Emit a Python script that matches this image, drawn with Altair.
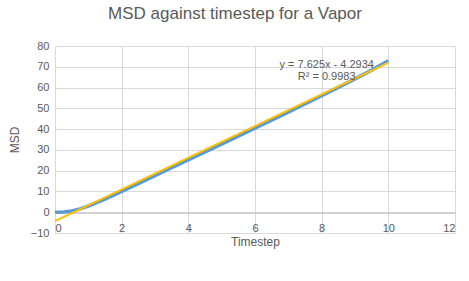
import altair as alt
import pandas as pd

# Data
timestep = [0, 0.25, 0.5, 0.75, 1.0, 1.25, 1.5, 1.75, 2.0, 2.5, 3.0, 3.5, 4.0, 4.5, 5.0,
            5.5, 6.0, 6.5, 7.0, 7.5, 8.0, 8.5, 9.0, 9.5, 10.0]
msd = [0.0, 0.1, 0.6, 1.6, 3.0, 4.6, 6.3, 8.1, 10.0, 13.8, 17.6, 21.4, 25.2, 29.0, 32.8,
       36.6, 40.4, 44.3, 48.2, 52.1, 56.1, 60.1, 64.2, 68.4, 72.9]

slope = 7.625
intercept = -4.2934
trend_x = [0, 10]
trend_y = [slope * x + intercept for x in trend_x]

eq_labels = ["y = 7.625x - 4.2934", "R² = 0.9983"]
eq_x = [8.15, 8.15]
eq_y = [71.0, 65.2]

x_ticks = [0, 2, 4, 6, 8, 10, 12]
y_ticks = [-10, 0, 10, 20, 30, 40, 50, 60, 70, 80]

df = pd.DataFrame({"t": timestep, "msd": msd})
tdf = pd.DataFrame({"t": trend_x, "msd": trend_y})
edf = pd.DataFrame({"t": eq_x, "msd": eq_y, "label": eq_labels})

FONT = "Liberation Sans"
GRAY = "#595959"

xscale = alt.Scale(domain=[0, 12], nice=False)
yscale = alt.Scale(domain=[-10, 80], nice=False)

H = 187

xaxis = alt.Axis(title="Timestep", values=x_ticks,
                 grid=True, gridColor="#D9D9D9", domainColor="#BFBFBF",
                 ticks=False, labelPadding=10, offset=-(H * 10 / 90) + 0.5,
                 labelFont=FONT, labelFontSize=11, labelColor=GRAY,
                 titleFont=FONT, titleFontSize=12, titleColor=GRAY,
                 titleFontWeight="normal", titlePadding=3,
                 labelOverlap=False)
yaxis = alt.Axis(title="MSD", values=y_ticks,
                 grid=True, gridColor="#D9D9D9", domain=False,
                 ticks=False, labelPadding=6, titlePadding=9,
                 labelFont=FONT, labelFontSize=11, labelColor=GRAY,
                 titleFont=FONT, titleFontSize=12, titleColor=GRAY,
                 titleFontWeight="normal", labelOverlap=False, labelBound=False)

blue = alt.Chart(df).mark_line(color="#5B9BD5", strokeWidth=3.5).encode(
    x=alt.X("t:Q", scale=xscale, axis=xaxis),
    y=alt.Y("msd:Q", scale=yscale, axis=yaxis))

trend = alt.Chart(tdf).mark_line(color="#FFC000", strokeWidth=2).encode(
    x=alt.X("t:Q", scale=xscale, axis=xaxis),
    y=alt.Y("msd:Q", scale=yscale, axis=yaxis))

txt = alt.Chart(edf).mark_text(font=FONT, fontSize=11, color=GRAY, align="center").encode(
    x=alt.X("t:Q", scale=xscale, axis=xaxis),
    y=alt.Y("msd:Q", scale=yscale, axis=yaxis),
    text="label:N")

chart = alt.layer(blue, trend, txt).properties(
    width=400, height=H,
    background="white",
    title=alt.TitleParams("MSD against timestep for a Vapor", font=FONT, fontSize=17,
                          fontWeight="normal", color=GRAY, anchor="middle", offset=17,
                          dx=-20),
    autosize=alt.AutoSizeParams(type="none"),
    padding={"left": 55, "top": 46, "right": 14, "bottom": 48},
).configure_view(stroke=None)

chart.save("out.html", embed_options={"renderer": "svg", "actions": False})
